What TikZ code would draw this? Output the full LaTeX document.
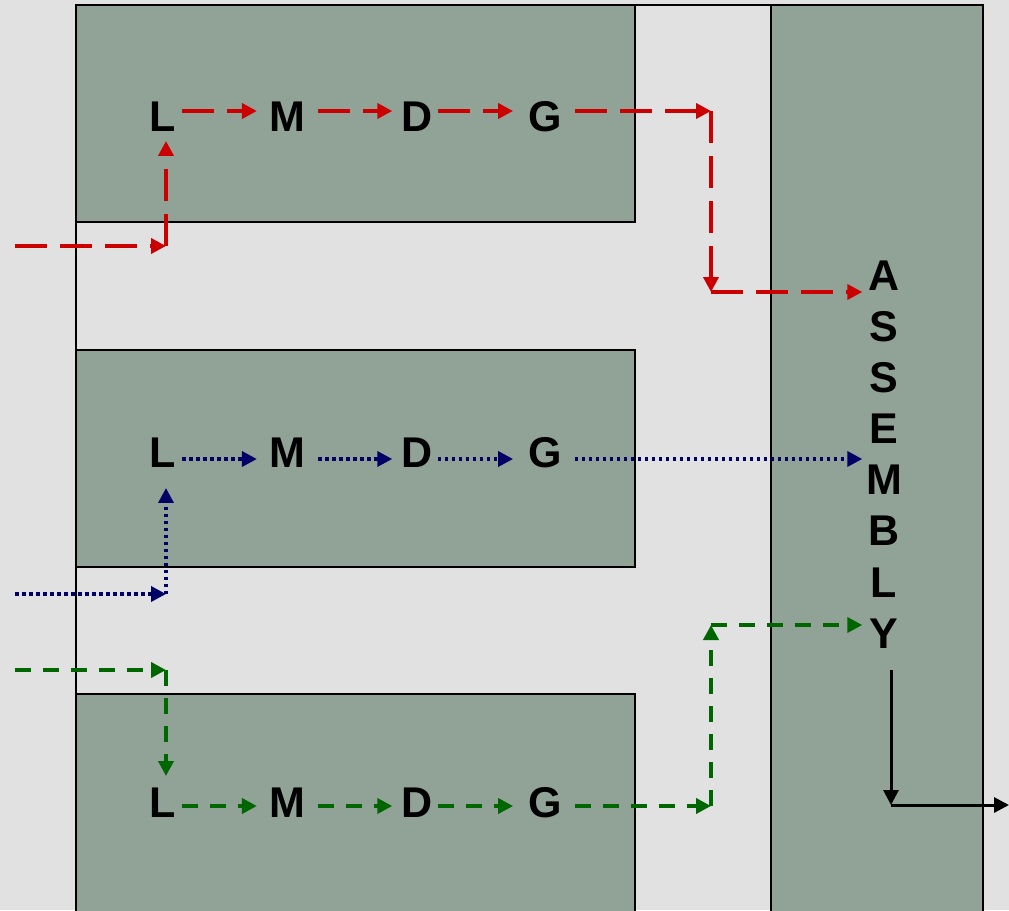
\documentclass[tikz,border=0pt]{standalone}
\usepackage{fontspec}
\setmainfont{Liberation Sans}
\usetikzlibrary{arrows.meta}
\definecolor{bgc}{HTML}{E1E1E1}
\definecolor{boxc}{HTML}{91A297}
\definecolor{redc}{HTML}{CC0000}
\definecolor{bluec}{HTML}{000066}
\definecolor{greenc}{HTML}{006600}
\begin{document}
\begin{tikzpicture}[x=1pt,y=-1pt,
  panel/.style={draw=black,line width=1.6pt,fill=boxc},
  letter/.style={inner sep=0pt,font=\fontsize{43}{43}\selectfont\bfseries},
  tipx/.style={-{Triangle[length=15pt,width=15pt]}},
  redl/.style={tipx,draw=redc,line width=4pt,dash pattern=on 32pt off 13pt},
  bluel/.style={tipx,draw=bluec,line width=3.5pt,dash pattern=on 3.5pt off 3.5pt},
  greenl/.style={tipx,draw=greenc,line width=4pt,dash pattern=on 16pt off 12pt},
  blackl/.style={tipx,draw=black,line width=3pt},
]
\fill[bgc] (0,0) rectangle (1009,910);
\useasboundingbox (0,0) rectangle (1009,910);
% outline
\draw[line width=2pt] (76,930) -- (76,5) -- (983,5);
% panels
\draw[panel] (76,5) rectangle (635,222);
\draw[panel] (76,350) rectangle (635,567);
\draw[panel] (76,694) rectangle (635,930);
\draw[panel] (771,5) rectangle (983,930);
% letters
\foreach \r/\y in {1/117,2/453,3/803}{
  \node[letter] (L\r) at (163,\y) {L};
  \node[letter] (M\r) at (287,\y) {M};
  \node[letter] (D\r) at (417,\y) {D};
  \node[letter] (G\r) at (545,\y) {G};
}
\node[letter] (A1) at (884,276) {A};
\node[letter] (A2) at (884,327) {S};
\node[letter] (A3) at (884,378) {S};
\node[letter] (A4) at (884,429) {E};
\node[letter] (A5) at (884,480) {M};
\node[letter] (A6) at (884,531) {B};
\node[letter] (A7) at (884,583) {L};
\node[letter] (A8) at (884,634) {Y};
% ---------- red row
\draw[redl,shorten <=6pt,shorten >=12pt] ([yshift=6pt]L1.east) -- ([yshift=6pt]M1.west);
\draw[redl,shorten <=13pt,shorten >=9pt] ([yshift=6pt]M1.east) -- ([yshift=6pt]D1.west);
\draw[redl,shorten <=5pt,shorten >=15pt] ([yshift=6pt]D1.east) -- ([yshift=6pt]G1.west);
\coordinate (rin) at (15,246);
\coordinate (rk) at (166,246);
\draw[redl] (rin) -- (rk);
\draw[redl,shorten >=9pt] (rk) -- (rk |- L1.south);
\coordinate (ro1) at (711,111);
\coordinate (ro2) at (711,292);
\draw[redl,shorten <=13pt] ([yshift=6pt]G1.east) -- (ro1);
\draw[redl] (ro1) -- (ro2);
\draw[redl,shorten >=6pt] (ro2) -- (ro2 -| A1.west);
% ---------- blue row
\draw[bluel,shorten <=6pt,shorten >=12pt] ([yshift=-6pt]L2.east) -- ([yshift=-6pt]M2.west);
\draw[bluel,shorten <=13pt,shorten >=9pt] ([yshift=-6pt]M2.east) -- ([yshift=-6pt]D2.west);
\draw[bluel,shorten <=5pt,shorten >=15pt] ([yshift=-6pt]D2.east) -- ([yshift=-6pt]G2.west);
\coordinate (bin) at (15,594);
\coordinate (bk) at (166,594);
\draw[bluel] (bin) -- (bk);
\draw[bluel,shorten >=20pt] (bk) -- (bk |- L2.south);
\coordinate (bo) at ([yshift=-6pt]G2.east);
\draw[bluel,shorten <=13pt,shorten >=6pt] (bo) -- (bo -| A1.west);
% ---------- green row
\draw[greenl,shorten <=6pt,shorten >=12pt] ([yshift=-3pt]L3.east) -- ([yshift=-3pt]M3.west);
\draw[greenl,shorten <=13pt,shorten >=9pt] ([yshift=-3pt]M3.east) -- ([yshift=-3pt]D3.west);
\draw[greenl,shorten <=5pt,shorten >=15pt] ([yshift=-3pt]D3.east) -- ([yshift=-3pt]G3.west);
\coordinate (gin) at (15,670);
\coordinate (gk) at (166,670);
\draw[greenl] (gin) -- (gk);
\draw[greenl,shorten >=12pt] (gk) -- (gk |- L3.north);
\coordinate (go0) at ([yshift=-3pt]G3.east);
\coordinate (go1) at (711,806);
\coordinate (go2) at (711,625);
\draw[greenl,shorten <=13pt] (go0) -- (go1);
\draw[greenl] (go1) -- (go2);
\draw[greenl,shorten >=6pt] (go2) -- (go2 -| A1.west);
% ---------- output
\coordinate (k1) at (891,670);
\coordinate (k2) at (891,805);
\coordinate (k3) at (1009,805);
\draw[blackl] (k1) -- (k2);
\draw[blackl] (k2) -- (k3);
\end{tikzpicture}
\end{document}
